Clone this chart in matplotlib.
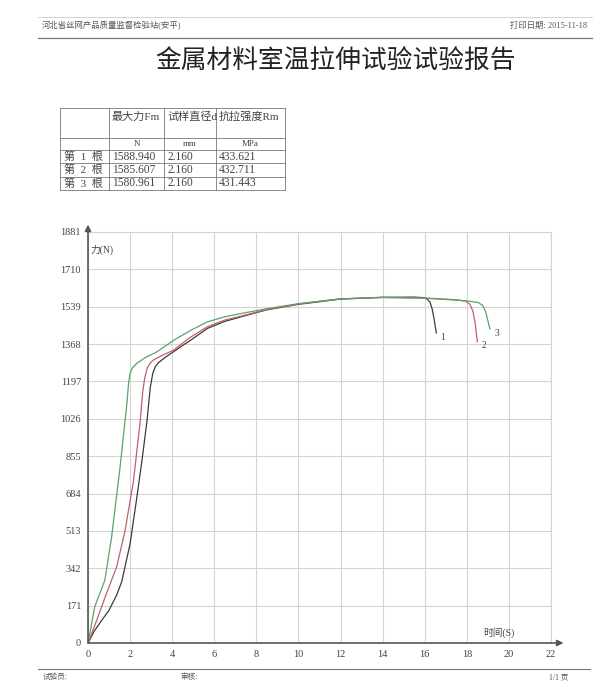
import matplotlib
matplotlib.use("Agg")
import matplotlib.pyplot as plt
import numpy as np

plt.rcParams['font.family'] = ['Liberation Serif', 'Noto Sans CJK SC', 'DejaVu Sans']

# report texts
org_name = "河北省丝网产品质量监督检验站(安平)"
print_date = "打印日期: 2015-11-18"
title = "金属材料室温拉伸试验试验报告"

# result table
col_heads = ["最大力Fm", "试样直径d", "抗拉强度Rm"]
col_units = ["N", "mm", "MPa"]
row_names = ["第  1  根", "第  2  根", "第  3  根"]
max_force = ["1588.940", "1585.607", "1580.961"]
diameter = ["2.160", "2.160", "2.160"]
strength = ["433.621", "432.711", "431.443"]

# force-time curves (s, N)
t1 = [0, 0.3, 0.72, 1.0, 1.36, 1.6, 2.0, 2.32, 2.56, 2.8, 2.96, 3.08, 3.2, 3.35,
      3.52, 3.8, 4.08, 4.5, 4.88, 5.68, 6.5, 7.28, 8.5, 10, 12, 14, 15.5, 15.9,
      16.1, 16.25, 16.35, 16.45, 16.55]
f1 = [0, 55, 113, 150, 219, 280, 454, 666, 832, 1014, 1170, 1235, 1265, 1283,
      1296, 1316, 1334, 1362, 1386, 1440, 1472, 1493, 1525, 1550, 1574, 1582,
      1583, 1581, 1575, 1560, 1530, 1480, 1419]
t2 = [0, 0.4, 0.88, 1.36, 1.76, 2.16, 2.48, 2.6, 2.7, 2.82, 2.95, 3.1, 3.5, 4.08,
      4.8, 5.68, 6.5, 7.28, 8.5, 10, 12, 14, 16, 17.5, 17.95, 18.15, 18.3, 18.4,
      18.5]
f2 = [0, 100, 227, 348, 514, 741, 1014, 1150, 1215, 1260, 1280, 1295, 1315,
      1341, 1395, 1448, 1478, 1496, 1526, 1552, 1575, 1582, 1579, 1571, 1564,
      1550, 1515, 1460, 1379]
t3 = [0, 0.32, 0.8, 1.12, 1.52, 1.84, 1.93, 2.0, 2.1, 2.32, 2.7, 3.28, 4.08,
      4.9, 5.68, 6.5, 7.28, 8.5, 10, 12, 14, 16, 18, 18.55, 18.75, 18.9, 19.0,
      19.1]
f3 = [0, 166, 287, 484, 802, 1089, 1190, 1235, 1258, 1280, 1305, 1333, 1386,
      1432, 1470, 1493, 1508, 1530, 1553, 1575, 1581, 1578, 1566, 1558, 1545,
      1515, 1475, 1437]
curve_labels = ["1", "2", "3"]
curve_colors = ["#3a3a3a", "#c0606a", "#5aa36a"]

x_ticks = np.arange(0, 23, 2)
y_ticks = [0, 171, 342, 513, 684, 855, 1026, 1197, 1368, 1539, 1710, 1881]

fig = plt.figure(figsize=(6, 7), dpi=100)

# page overlay in pixel coordinates
page = fig.add_axes([0, 0, 1, 1])
page.set_xlim(0, 600)
page.set_ylim(700, 0)
page.axis('off')

ink = "#444444"
page.plot([38, 592], [17, 17], color="#cccccc", lw=0.6)
page.plot([38, 592], [38, 38], color="#777777", lw=0.9)
page.text(42, 26, org_name, fontsize=6, color="#555555", va='center')
page.text(587, 26, print_date, fontsize=6, color="#555555", va='center', ha='right')
page.text(335, 62, title, fontsize=18.5, color="#222222", va='center', ha='center',
          family=['Noto Sans CJK SC'])

# table grid
col_x = [60, 109, 164, 216, 285]
row_y = [108, 138, 150, 163, 177, 190]
for x in col_x:
    page.plot([x, x], [row_y[0], row_y[-1]], color="#777777", lw=0.6)
for y in row_y:
    page.plot([col_x[0], col_x[-1]], [y, y], color="#777777", lw=0.6)
tfs = 8
for j, h in enumerate(col_heads):
    page.text(col_x[j + 1] + 3, 117, h, fontsize=tfs, color=ink, va='center')
    page.text((col_x[j + 1] + col_x[j + 2]) / 2, 144, col_units[j], fontsize=6.5,
              color=ink, va='center', ha='center')
for i in range(3):
    yc = (row_y[i + 2] + row_y[i + 3]) / 2
    page.text(64, yc, row_names[i], fontsize=tfs, color=ink, va='center')
    for j, v in enumerate([max_force[i], diameter[i], strength[i]]):
        page.text(col_x[j + 1] + 3, yc, v, fontsize=8.3, color=ink, va='center')

# footer
page.plot([38, 590], [669, 669], color="#777777", lw=0.8)
page.text(43, 677, "试验员:", fontsize=5.5, color="#555555", va='center')
page.text(180, 677, "审核:", fontsize=5.5, color="#555555", va='center')
page.text(568, 677, "1/1 页", fontsize=5.5, color="#555555", va='center', ha='right')

# chart
ax = fig.add_axes([88 / 600, 57 / 700, 463 / 600, 411 / 700])
ax.patch.set_alpha(0)
ax.set_xlim(0, 22)
ax.set_ylim(0, 1881)
ax.set_xticks(x_ticks)
ax.set_yticks(y_ticks)
ax.grid(True, color="#d4d4d4", lw=0.8)
ax.tick_params(length=0, labelsize=7.5, colors="#444444", pad=5)
for s in ["top", "right"]:
    ax.spines[s].set_color("#d4d4d4")
    ax.spines[s].set_linewidth(0.8)
for s in ["left", "bottom"]:
    ax.spines[s].set_visible(False)
ax.annotate('', xy=(1.027, 0), xycoords='axes fraction', xytext=(0, 0),
            arrowprops=dict(arrowstyle='-|>', color="#555555", lw=1.2,
                            mutation_scale=9, shrinkA=0, shrinkB=0))
ax.annotate('', xy=(0, 1.018), xycoords='axes fraction', xytext=(0, 0),
            arrowprops=dict(arrowstyle='-|>', color="#555555", lw=1.2,
                            mutation_scale=9, shrinkA=0, shrinkB=0))

for t, f, lab, c in zip([t1, t2, t3], [f1, f2, f3], curve_labels, curve_colors):
    ax.plot(t, f, color=c, lw=0.9)
    ax.annotate(lab, xy=(t[-1], f[-1]), xytext=(3, -3), textcoords='offset points',
                fontsize=7, color="#444444", va='center')

ax.text(0.1, 1800, "力(N)", fontsize=7, color="#444444", va='center')
ax.text(18.8, 45, "时间(S)", fontsize=7, color="#444444", va='center')

fig.savefig("out.png", dpi=100)
